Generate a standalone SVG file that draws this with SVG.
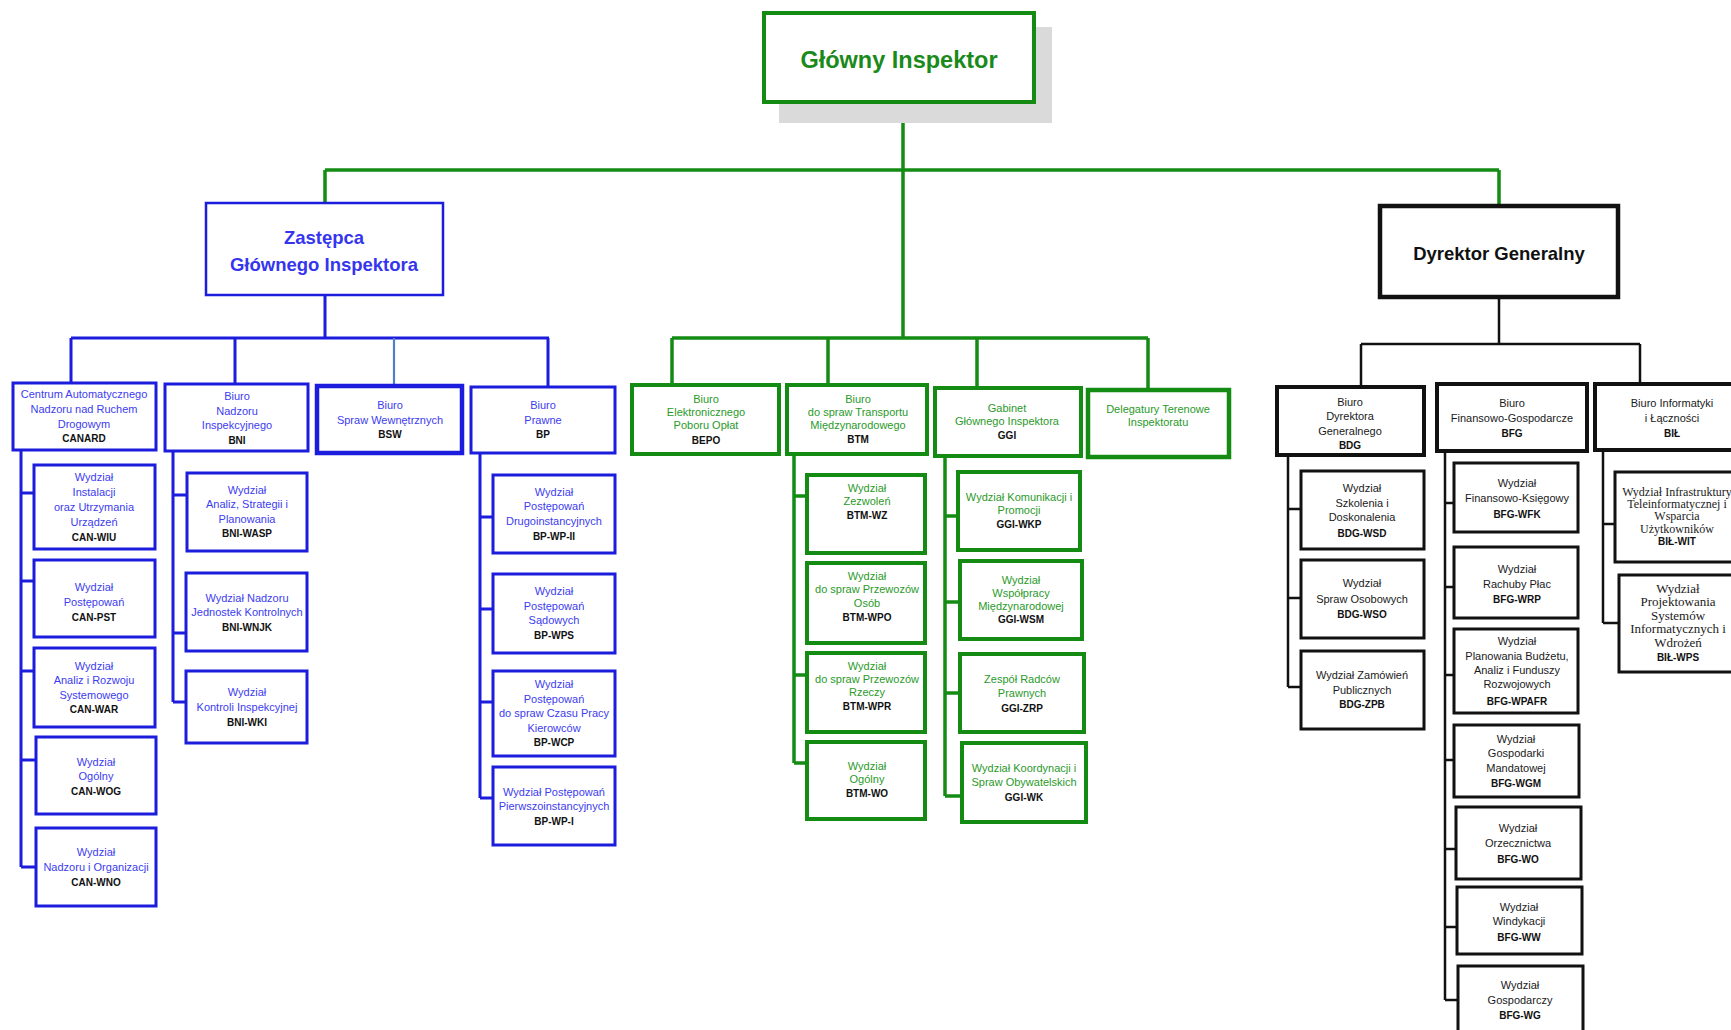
<svg xmlns="http://www.w3.org/2000/svg" width="1731" height="1030" viewBox="0 0 1731 1030">
<style>
text{font-family:"Liberation Sans",Arial,sans-serif;font-size:11px;text-anchor:middle}
.n rect{fill:#fff}
.bl rect{stroke:#1c1cdc;stroke-width:3}
.bl text{fill:#3c3cf0}
.gr rect{stroke:#148c14;stroke-width:4}
.gr text{fill:#2a9a2a}
.bk rect{stroke:#111;stroke-width:3}
.bk text{fill:#1a1a1a}
.n text.c{font-weight:bold;font-size:10px;fill:#111}
.tm text{font-family:"Liberation Serif","Times New Roman",serif;font-size:12px}
.n.tm text.c{font-family:"Liberation Sans",Arial,sans-serif;font-size:10px}
.lg{stroke:#148c14;stroke-width:3.5;fill:none}
.lb{stroke:#1c1cdc;stroke-width:3;fill:none}
.lk{stroke:#111;stroke-width:2.5;fill:none}
.h{font-weight:bold}
</style>
<g id="connectors">
<path class="lg" d="M903 102V338M325 170H1499M325 170V203M1499 170V206"/>
<path class="lg" d="M672 338H1148M672 338V385M828 338V385M977 338V388M1148 338V390"/>
<path class="lg" d="M794 454V763M794 496H807M794 675H807M794 763H807"/>
<path class="lg" d="M945 456V796M945 516H958M945 602H960M945 693H960M945 796H962"/>
<path class="lb" d="M325 295V338M71 338H549M71 338V383M235 338V384M548 338V387"/>
<path d="M394 338V386" stroke="#4f7fc4" stroke-width="2.2" fill="none"/>
<path class="lb" d="M21 450V867M21 493H34M21 581H34M21 671H34M21 760H36M21 867H36"/>
<path class="lb" d="M173 451V702M173 495H187M173 633H186M173 702H186"/>
<path class="lb" d="M480 453V798M480 517H493M480 609H493M480 702H493M480 798H493"/>
<path class="lk" d="M1499 297V344M1361 344H1640M1361 344V387M1640 344V384"/>
<path class="lk" d="M1288 455V687M1288 509H1301M1288 598H1301M1288 687H1301"/>
<path class="lk" d="M1445 451V1000M1445 503H1454M1445 587H1454M1445 675H1454M1445 760H1454M1445 849H1456M1445 927H1457M1445 1000H1458"/>
<path class="lk" d="M1603 450V623M1603 524H1615M1603 623H1619"/>
</g>
<g id="glowny-inspektor">
<rect x="779" y="27" width="273" height="96" fill="#dadada"/>
<rect x="764" y="13" width="270" height="89" fill="#fff" stroke="#148c14" stroke-width="4"/>
<text x="899" y="68" class="h" style="font-size:23.5px;fill:#1a8a1a">Główny Inspektor</text>
</g>
<g id="zastepca">
<rect x="206" y="203" width="237" height="92" fill="#fff" stroke="#1c1cdc" stroke-width="2.5"/>
<text x="324" y="243.5" class="h" style="font-size:18.5px;fill:#3535ee">Zastępca</text>
<text x="324" y="270.5" class="h" style="font-size:18.5px;fill:#3535ee">Głównego Inspektora</text>
</g>
<g id="dyrektor-generalny">
<rect x="1380" y="206" width="238" height="91" fill="#fff" stroke="#111" stroke-width="4.5"/>
<text x="1499" y="259.5" class="h" style="font-size:18.5px;fill:#111">Dyrektor Generalny</text>
</g>
<g id="canard" class="n bl"><rect x="13" y="383" width="143" height="67"/><text x="84" y="398">Centrum Automatycznego</text><text x="84" y="413">Nadzoru nad Ruchem</text><text x="84" y="428">Drogowym</text><text class="c" x="84" y="442">CANARD</text></g>
<g id="can-wiu" class="n bl"><rect x="34" y="465" width="121" height="84"/><text x="94" y="481">Wydział</text><text x="94" y="496">Instalacji</text><text x="94" y="511">oraz Utrzymania</text><text x="94" y="526">Urządzeń</text><text class="c" x="94" y="541">CAN-WIU</text></g>
<g id="can-pst" class="n bl"><rect x="34" y="560" width="121" height="77"/><text x="94" y="591">Wydział</text><text x="94" y="606">Postępowań</text><text class="c" x="94" y="621">CAN-PST</text></g>
<g id="can-war" class="n bl"><rect x="34" y="648" width="121" height="79"/><text x="94" y="670">Wydział</text><text x="94" y="684">Analiz i Rozwoju</text><text x="94" y="699">Systemowego</text><text class="c" x="94" y="713">CAN-WAR</text></g>
<g id="can-wog" class="n bl"><rect x="36" y="737" width="120" height="77"/><text x="96" y="766">Wydział</text><text x="96" y="780">Ogólny</text><text class="c" x="96" y="795">CAN-WOG</text></g>
<g id="can-wno" class="n bl"><rect x="36" y="828" width="120" height="78"/><text x="96" y="856">Wydział</text><text x="96" y="871">Nadzoru i Organizacji</text><text class="c" x="96" y="886">CAN-WNO</text></g>
<g id="bni" class="n bl"><rect x="165" y="384" width="143" height="67"/><text x="237" y="400">Biuro</text><text x="237" y="415">Nadzoru</text><text x="237" y="429">Inspekcyjnego</text><text class="c" x="237" y="444">BNI</text></g>
<g id="bni-wasp" class="n bl"><rect x="187" y="473" width="120" height="78"/><text x="247" y="494">Wydział</text><text x="247" y="508">Analiz, Strategii i</text><text x="247" y="523">Planowania</text><text class="c" x="247" y="537">BNI-WASP</text></g>
<g id="bni-wnjk" class="n bl"><rect x="186" y="573" width="121" height="78"/><text x="247" y="602">Wydział Nadzoru</text><text x="247" y="616">Jednostek Kontrolnych</text><text class="c" x="247" y="631">BNI-WNJK</text></g>
<g id="bni-wki" class="n bl"><rect x="186" y="671" width="121" height="72"/><text x="247" y="696">Wydział</text><text x="247" y="711">Kontroli Inspekcyjnej</text><text class="c" x="247" y="726">BNI-WKI</text></g>
<g id="bsw" class="n bl"><rect x="317" y="386" width="145" height="67" style="stroke-width:4.5"/><text x="390" y="409">Biuro</text><text x="390" y="424">Spraw Wewnętrznych</text><text class="c" x="390" y="438">BSW</text></g>
<g id="bp" class="n bl"><rect x="471" y="387" width="144" height="66"/><text x="543" y="409">Biuro</text><text x="543" y="424">Prawne</text><text class="c" x="543" y="438">BP</text></g>
<g id="bp-wp-ii" class="n bl"><rect x="493" y="475" width="122" height="78"/><text x="554" y="496">Wydział</text><text x="554" y="510">Postępowań</text><text x="554" y="525">Drugoinstancyjnych</text><text class="c" x="554" y="540">BP-WP-II</text></g>
<g id="bp-wps" class="n bl"><rect x="493" y="574" width="122" height="79"/><text x="554" y="595">Wydział</text><text x="554" y="610">Postępowań</text><text x="554" y="624">Sądowych</text><text class="c" x="554" y="639">BP-WPS</text></g>
<g id="bp-wcp" class="n bl"><rect x="493" y="671" width="122" height="85"/><text x="554" y="688">Wydział</text><text x="554" y="703">Postępowań</text><text x="554" y="717">do spraw Czasu Pracy</text><text x="554" y="732">Kierowców</text><text class="c" x="554" y="746">BP-WCP</text></g>
<g id="bp-wp-i" class="n bl"><rect x="493" y="767" width="122" height="78"/><text x="554" y="796">Wydział Postępowań</text><text x="554" y="810">Pierwszoinstancyjnych</text><text class="c" x="554" y="825">BP-WP-I</text></g>
<g id="bepo" class="n gr"><rect x="632" y="385" width="147" height="69"/><text x="706" y="403">Biuro</text><text x="706" y="416">Elektronicznego</text><text x="706" y="429">Poboru Opłat</text><text class="c" x="706" y="444">BEPO</text></g>
<g id="btm" class="n gr"><rect x="787" y="385" width="140" height="69"/><text x="858" y="403">Biuro</text><text x="858" y="416">do spraw Transportu</text><text x="858" y="429">Międzynarodowego</text><text class="c" x="858" y="443">BTM</text></g>
<g id="btm-wz" class="n gr"><rect x="807" y="475" width="118" height="78"/><text x="867" y="492">Wydział</text><text x="867" y="505">Zezwoleń</text><text class="c" x="867" y="519">BTM-WZ</text></g>
<g id="btm-wpo" class="n gr"><rect x="807" y="563" width="118" height="80"/><text x="867" y="580">Wydział</text><text x="867" y="593">do spraw Przewozów</text><text x="867" y="607">Osób</text><text class="c" x="867" y="621">BTM-WPO</text></g>
<g id="btm-wpr" class="n gr"><rect x="807" y="653" width="118" height="79"/><text x="867" y="670">Wydział</text><text x="867" y="683">do spraw Przewozów</text><text x="867" y="696">Rzeczy</text><text class="c" x="867" y="710">BTM-WPR</text></g>
<g id="btm-wo" class="n gr"><rect x="807" y="742" width="118" height="77"/><text x="867" y="770">Wydział</text><text x="867" y="783">Ogólny</text><text class="c" x="867" y="797">BTM-WO</text></g>
<g id="ggi" class="n gr"><rect x="935" y="388" width="146" height="68"/><text x="1007" y="412">Gabinet</text><text x="1007" y="425">Głównego Inspektora</text><text class="c" x="1007" y="439">GGI</text></g>
<g id="ggi-wkp" class="n gr"><rect x="958" y="472" width="122" height="78"/><text x="1019" y="501">Wydział Komunikacji i</text><text x="1019" y="514">Promocji</text><text class="c" x="1019" y="528">GGI-WKP</text></g>
<g id="ggi-wsm" class="n gr"><rect x="960" y="561" width="122" height="78"/><text x="1021" y="584">Wydział</text><text x="1021" y="597">Współpracy</text><text x="1021" y="610">Międzynarodowej</text><text class="c" x="1021" y="623">GGI-WSM</text></g>
<g id="ggi-zrp" class="n gr"><rect x="960" y="654" width="124" height="78"/><text x="1022" y="683">Zespół Radców</text><text x="1022" y="697">Prawnych</text><text class="c" x="1022" y="712">GGI-ZRP</text></g>
<g id="ggi-wk" class="n gr"><rect x="962" y="743" width="124" height="79"/><text x="1024" y="772">Wydział Koordynacji i</text><text x="1024" y="786">Spraw Obywatelskich</text><text class="c" x="1024" y="801">GGI-WK</text></g>
<g id="delegatury" class="n gr"><rect x="1088" y="390" width="141" height="67" style="stroke-width:4.5"/><text x="1158" y="413">Delegatury Terenowe</text><text x="1158" y="426">Inspektoratu</text></g>
<g id="bdg" class="n bk"><rect x="1277" y="387" width="147" height="68" style="stroke-width:4"/><text x="1350" y="406">Biuro</text><text x="1350" y="420">Dyrektora</text><text x="1350" y="435">Generalnego</text><text class="c" x="1350" y="449">BDG</text></g>
<g id="bdg-wsd" class="n bk"><rect x="1301" y="471" width="123" height="78"/><text x="1362" y="492">Wydział</text><text x="1362" y="507">Szkolenia i</text><text x="1362" y="521">Doskonalenia</text><text class="c" x="1362" y="537">BDG-WSD</text></g>
<g id="bdg-wso" class="n bk"><rect x="1301" y="560" width="123" height="78"/><text x="1362" y="587">Wydział</text><text x="1362" y="603">Spraw Osobowych</text><text class="c" x="1362" y="618">BDG-WSO</text></g>
<g id="bdg-zpb" class="n bk"><rect x="1301" y="651" width="123" height="78"/><text x="1362" y="679">Wydział Zamówień</text><text x="1362" y="694">Publicznych</text><text class="c" x="1362" y="708">BDG-ZPB</text></g>
<g id="bfg" class="n bk"><rect x="1437" y="384" width="150" height="67" style="stroke-width:4"/><text x="1512" y="407">Biuro</text><text x="1512" y="422">Finansowo-Gospodarcze</text><text class="c" x="1512" y="437">BFG</text></g>
<g id="bfg-wfk" class="n bk"><rect x="1454" y="463" width="124" height="69"/><text x="1517" y="487">Wydział</text><text x="1517" y="502">Finansowo-Księgowy</text><text class="c" x="1517" y="518">BFG-WFK</text></g>
<g id="bfg-wrp" class="n bk"><rect x="1454" y="547" width="124" height="71"/><text x="1517" y="573">Wydział</text><text x="1517" y="588">Rachuby Płac</text><text class="c" x="1517" y="603">BFG-WRP</text></g>
<g id="bfg-wpafr" class="n bk"><rect x="1454" y="629" width="124" height="84"/><text x="1517" y="645">Wydział</text><text x="1517" y="660">Planowania Budżetu,</text><text x="1517" y="674">Analiz i Funduszy</text><text x="1517" y="688">Rozwojowych</text><text class="c" x="1517" y="705">BFG-WPAFR</text></g>
<g id="bfg-wgm" class="n bk"><rect x="1454" y="725" width="125" height="72"/><text x="1516" y="743">Wydział</text><text x="1516" y="757">Gospodarki</text><text x="1516" y="772">Mandatowej</text><text class="c" x="1516" y="787">BFG-WGM</text></g>
<g id="bfg-wo" class="n bk"><rect x="1456" y="807" width="125" height="72"/><text x="1518" y="832">Wydział</text><text x="1518" y="847">Orzecznictwa</text><text class="c" x="1518" y="863">BFG-WO</text></g>
<g id="bfg-ww" class="n bk"><rect x="1457" y="887" width="125" height="67"/><text x="1519" y="911">Wydział</text><text x="1519" y="925">Windykacji</text><text class="c" x="1519" y="941">BFG-WW</text></g>
<g id="bfg-wg" class="n bk"><rect x="1458" y="966" width="125" height="80"/><text x="1520" y="989">Wydział</text><text x="1520" y="1004">Gospodarczy</text><text class="c" x="1520" y="1019">BFG-WG</text></g>
<g id="bil" class="n bk"><rect x="1595" y="384" width="150" height="66" style="stroke-width:4"/><text x="1672" y="407">Biuro Informatyki</text><text x="1672" y="422">i Łączności</text><text class="c" x="1672" y="437">BIŁ</text></g>
<g id="bil-wit" class="n bk tm"><rect x="1615" y="472" width="130" height="90"/><text x="1677" y="496">Wydział Infrastruktury</text><text x="1677" y="508">Teleinformatycznej i</text><text x="1677" y="520">Wsparcia</text><text x="1677" y="533">Użytkowników</text><text class="c" x="1677" y="545">BIŁ-WIT</text></g>
<g id="bil-wps" class="n bk tm"><rect x="1619" y="575" width="130" height="97"/><text x="1678" y="593" style="font-size:13px">Wydział</text><text x="1678" y="606" style="font-size:13px">Projektowania</text><text x="1678" y="620" style="font-size:13px">Systemów</text><text x="1678" y="633" style="font-size:13px">Informatycznych i</text><text x="1678" y="647" style="font-size:13px">Wdrożeń</text><text class="c" x="1678" y="661">BIŁ-WPS</text></g>
</svg>
